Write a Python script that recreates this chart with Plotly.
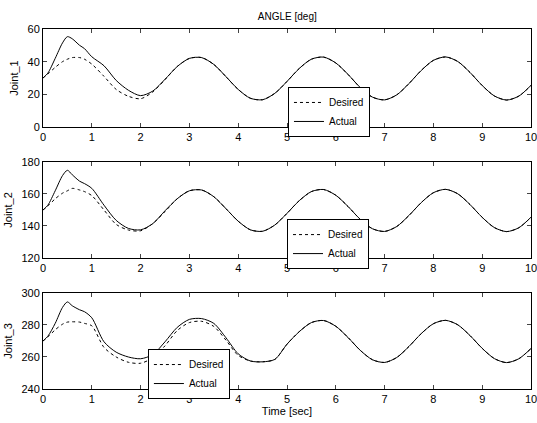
import plotly.graph_objects as go
from plotly.subplots import make_subplots

time = [0, 0.1, 0.25, 0.4, 0.5, 0.6, 0.75, 0.85, 1.0, 1.25, 1.5, 1.75, 2.0,
        2.25, 2.5, 2.75, 3.0, 3.25, 3.5, 3.75, 4.0, 4.25, 4.5, 4.75, 5.0,
        5.25, 5.5, 5.75, 6.0, 6.25, 6.5, 6.75, 7.0, 7.25, 7.5, 7.75, 8.0,
        8.25, 8.5, 8.75, 9.0, 9.25, 9.5, 9.75, 10.0]

joint1_desired = [30, 32.5, 36.5, 40, 41.5, 42.5, 42.5, 41.5, 38.5, 31, 23, 18.8, 17.3,
                  21.5, 29, 37, 42, 42.5, 38.3, 30.8, 23, 17.6, 16.7, 20.6, 27.9,
                  35.8, 41.5, 42.8, 39.2, 32.2, 24.2, 18.3, 16.6, 19.7, 26.6, 34.6, 40.8,
                  42.9, 40.1, 33.4, 25.4, 19, 16.5, 18.9, 25.5]
joint1_actual = [30, 33, 42, 51.5, 55.3, 54, 50, 48, 43, 37.5, 28.5, 22.5, 19.2,
                 22, 29.2, 37, 42, 42.5, 38.3, 30.8, 23, 17.6, 16.7, 20.6, 27.9,
                 35.8, 41.5, 42.8, 39.2, 32.2, 24.2, 18.3, 16.6, 19.7, 26.6, 34.6, 40.8,
                 42.9, 40.1, 33.4, 25.4, 19, 16.5, 18.9, 25.5]

joint2_desired = [150, 152.5, 157, 160.5, 162, 163.5, 162.5, 161.5, 159, 150, 141, 137.5, 137,
                  141.5, 149, 157, 162, 162.5, 158.3, 150.8, 143, 137.6, 136.7, 140.6, 147.9,
                  155.8, 161.5, 162.8, 159.2, 152.2, 144.2, 138.3, 136.6, 139.7, 146.6, 154.6, 160.8,
                  162.9, 160.1, 153.4, 145.4, 139, 136.5, 138.9, 145.5]
joint2_actual = [150, 153, 162, 171.5, 174.8, 172, 168, 166.5, 163.5, 153, 143.5, 138.5, 137.6,
                 141.5, 149.5, 157, 162, 162.5, 158.3, 150.8, 143, 137.6, 136.7, 140.6, 147.9,
                 155.8, 161.5, 162.8, 159.2, 152.2, 144.2, 138.3, 136.6, 139.7, 146.6, 154.6, 160.8,
                 162.9, 160.1, 153.4, 145.4, 139, 136.5, 138.9, 145.5]

joint3_desired = [270, 272.5, 277, 280.5, 281.8, 282, 281.8, 281, 279.5, 266, 260, 256.7, 256.1,
                  259.5, 267, 276.5, 281.5, 282.3, 279.1, 270.5, 261, 257.5, 257, 258.5, 268,
                  275.8, 281.5, 282.8, 279.2, 272.2, 264.2, 258.3, 256.6, 259.7, 266.6, 274.6, 280.8,
                  282.9, 280.1, 273.4, 265.4, 259, 256.5, 258.9, 265.3]
joint3_actual = [270, 273, 281, 291, 294.4, 292, 289.5, 288.3, 284.5, 269.5, 263, 260, 258.9,
                 261.5, 269.5, 278.5, 283.5, 284, 281, 272, 262, 257.5, 257, 258.5, 268,
                 275.8, 281.5, 282.8, 279.2, 272.2, 264.2, 258.3, 256.6, 259.7, 266.6, 274.6, 280.8,
                 282.9, 280.1, 273.4, 265.4, 259, 256.5, 258.9, 265.3]

y_titles = ["Joint_1", "Joint_2", "Joint_3"]
y_ranges = [[0, 60], [120, 180], [240, 300]]
y_ticks = [[0, 20, 40, 60], [120, 140, 160, 180], [240, 260, 280, 300]]
x_ticks = [0, 1, 2, 3, 4, 5, 6, 7, 8, 9, 10]
series = [(joint1_desired, joint1_actual), (joint2_desired, joint2_actual),
          (joint3_desired, joint3_actual)]

FONT = "Liberation Sans, Arial, sans-serif"

fig = make_subplots(rows=3, cols=1, shared_xaxes=False, vertical_spacing=0.0)

legend_names = ["legend", "legend2", "legend3"]
for i, (des, act) in enumerate(series):
    fig.add_trace(go.Scatter(x=time, y=des, mode="lines", name="Desired",
                             line=dict(color="black", width=1, dash="3px,3px", shape="spline", smoothing=0.8),
                             legend=legend_names[i]), row=i + 1, col=1)
    fig.add_trace(go.Scatter(x=time, y=act, mode="lines", name="Actual",
                             line=dict(color="black", width=1, shape="spline", smoothing=0.8),
                             legend=legend_names[i]), row=i + 1, col=1)

# domains (paper fractions) for three panels
domains = [[0.7278, 1.0], [0.3639, 0.6306], [0.0, 0.2667]]
for i in range(3):
    xa = "xaxis" if i == 0 else f"xaxis{i+1}"
    ya = "yaxis" if i == 0 else f"yaxis{i+1}"
    fig.update_layout({
        xa: dict(range=[0, 10], tickvals=x_ticks, ticks="inside", ticklen=4,
                 showline=True, linecolor="black", linewidth=1, mirror="ticks",
                 showgrid=False, zeroline=False, ticklabeloverflow="allow", automargin=False,
                 tickfont=dict(size=11, color="black"),
                 title=dict(text="Time [sec]" if i == 2 else "", font=dict(size=11, color="black"),
                            standoff=2)),
        ya: dict(range=y_ranges[i], tickvals=y_ticks[i], ticks="inside", ticklen=4,
                 showline=True, linecolor="black", linewidth=1, mirror="ticks",
                 showgrid=False, zeroline=False, domain=domains[i], automargin=False,
                 tickfont=dict(size=11, color="black"),
                 title=dict(text=y_titles[i], font=dict(size=11, color="black"), standoff=6)),
    })

leg_common = dict(bgcolor="white", bordercolor="black", borderwidth=1,
                  font=dict(size=10, color="black", family=FONT),
                  xanchor="left", yanchor="top", itemwidth=30,
                  tracegroupgap=0)
fig.update_layout(
    width=537, height=423,
    margin=dict(l=43, r=6, t=29, b=34),
    paper_bgcolor="white", plot_bgcolor="white",
    font=dict(family=FONT, size=11, color="black"),
    title=dict(text="ANGLE [deg]", x=0.535, xanchor="center", y=0.962, yanchor="middle",
               font=dict(size=10, color="black")),
    legend=dict(x=0.502, y=0.839, **leg_common),
    legend2=dict(x=0.5, y=0.472, **leg_common),
    legend3=dict(x=0.215, y=0.111, **leg_common),
)

fig.write_html("out.html")
